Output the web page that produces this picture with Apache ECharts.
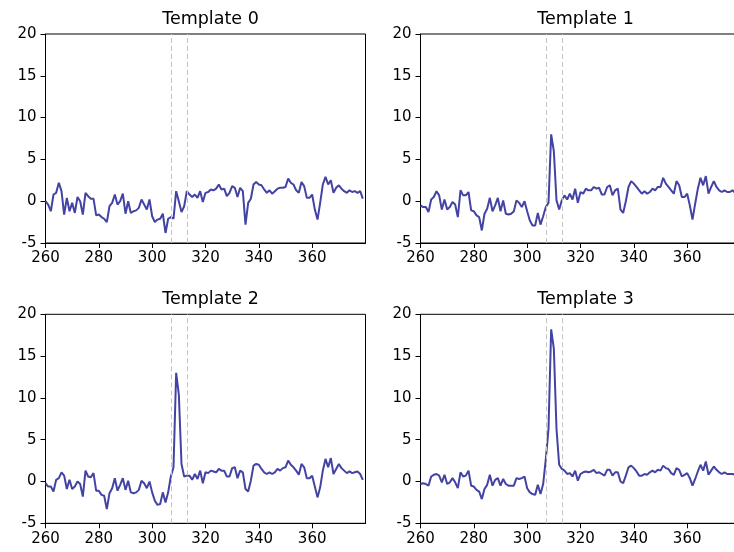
<!DOCTYPE html>
<html>
<head>
<meta charset="utf-8">
<script src="https://cdn.jsdelivr.net/npm/echarts@6/dist/echarts.min.js"></script>
<style>
html,body{margin:0;padding:0;background:#fff;overflow:hidden;width:734px;height:552px;}
#chart{width:760px;height:552px;}
</style>
</head>
<body>
<div id="chart"></div>
<script>
// sample positions
const xStart = 260;
const xTicks = [260, 280, 300, 320, 340, 360];
const yTicks = [-5, 0, 5, 10, 15, 20];
const windowLines = [307, 313];
const titles = ['Template 0', 'Template 1', 'Template 2', 'Template 3'];

const template0 = [
  0, -0.4, -1.2, 0.8, 1.0, 2.2, 1.2, -1.6, 0.4, -1.2,
  -0.2, -1.4, 0.5, 0, -1.6, 1.0, 0.6, 0.3, 0.3, -1.7,
  -1.6, -1.9, -2.1, -2.5, -0.6, -0.2, 0.8, -0.4, 0, 0.9,
  -1.5, 0, -1.4, -1.2, -1.1, -0.8, 0.2, -0.4, -1.0, 0.2,
  -1.8, -2.5, -2.2, -2.1, -1.5, -3.8, -2.1, -1.9, -2.1, 1.2,
  0, -1.3, -0.6, 1.2, 0.8, 0.5, 0.8, 0.4, 1.2, -0.1,
  1.0, 1.1, 1.4, 1.3, 1.5, 2.0, 1.4, 1.5, 0.6, 1.0,
  1.8, 1.6, 0.5, 1.6, 1.2, -2.8, -0.2, 0.3, 2.0, 2.3,
  2.0, 1.9, 1.4, 1.0, 1.3, 0.9, 1.2, 1.5, 1.6, 1.6,
  1.7, 2.7, 2.2, 2.0, 1.3, 1.0, 2.3, 1.8, 0.4, 0.4,
  0.8, -1.0, -2.2, -0.2, 2.0, 2.9, 2.0, 2.5, 1.0, 1.6,
  1.9, 1.5, 1.2, 1.0, 1.3, 1.1, 1.2, 1.0, 1.2, 0.3
];
const template1 = [
  -0.5, -0.7, -0.7, -1.3, 0.2, 0.5, 1.2, 0.7, -1.0, 0.2,
  -1.0, -0.7, -0.1, -0.4, -1.9, 1.3, 0.7, 0.7, 1.1, -1.1,
  -1.2, -1.7, -1.9, -3.5, -1.5, -0.9, 0.4, -1.2, -0.5, 0.4,
  -1.2, 0.1, -1.5, -1.6, -1.5, -1.2, 0.1, -0.2, -0.7, 0,
  -1.2, -2.3, -2.9, -2.9, -1.4, -2.8, -1.8, -0.7, -0.2, 8.0,
  6.0, 0.1, -1.0, 0.1, 0.7, 0.2, 0.9, 0.2, 1.5, -0.2,
  1.1, 0.9, 1.5, 1.3, 1.3, 1.7, 1.5, 1.6, 0.8, 0.8,
  1.7, 1.9, 0.7, 1.3, 1.5, -1.0, -1.4, 0, 1.7, 2.4,
  2.1, 1.7, 1.3, 0.9, 1.2, 0.9, 1.1, 1.5, 1.3, 1.7,
  1.7, 2.8, 2.1, 1.7, 1.3, 0.9, 2.4, 1.9, 0.5, 0.5,
  0.9, -0.5, -2.2, -0.3, 1.5, 2.8, 1.9, 3.0, 0.9, 1.7,
  2.4, 1.7, 1.3, 1.1, 1.3, 1.1, 1.1, 1.3, 1.0, 0.3
];
const template2 = [
  -0.2, -0.6, -0.6, -1.2, 0.2, 0.4, 1.1, 0.7, -0.9, 0.2,
  -0.9, -0.6, 0, -0.3, -1.8, 1.3, 0.6, 0.5, 1.0, -1.1,
  -1.1, -1.6, -1.7, -3.3, -1.4, -0.8, 0.4, -1.1, -0.4, 0.4,
  -1.0, 0.1, -1.3, -1.4, -1.3, -1.0, 0.1, -0.2, -0.8, 0,
  -1.3, -2.3, -2.8, -2.7, -1.3, -2.5, -1.3, 0.6, 1.7, 13.0,
  10.4, 2.1, 0.6, 0.7, 0.7, 0.2, 0.9, 0.3, 1.3, -0.2,
  1.1, 1.0, 1.3, 1.2, 1.1, 1.5, 1.3, 1.3, 0.6, 0.6,
  1.6, 1.7, 0.4, 1.3, 1.1, -0.9, -1.2, 0.1, 1.9, 2.1,
  2.0, 1.5, 1.1, 0.9, 1.1, 0.9, 1.1, 1.5, 1.3, 1.6,
  1.7, 2.5, 2.0, 1.7, 1.3, 0.8, 2.1, 1.7, 0.4, 0.4,
  0.7, -0.6, -1.9, -0.7, 1.3, 2.7, 1.7, 2.8, 0.9, 1.5,
  2.1, 1.6, 1.3, 1.0, 1.2, 1.0, 1.1, 1.2, 0.9, 0.2
];
const template3 = [
  -0.3, -0.2, -0.3, -0.5, 0.6, 0.8, 0.9, 0.7, -0.1, 0.8,
  -0.3, -0.1, 0.4, -0.1, -0.8, 1.1, 0.6, 0.7, 1.3, -0.5,
  -0.6, -1.0, -1.2, -2.1, -0.9, -0.4, 0.8, -0.5, 0.2, 0.4,
  -0.5, 0.3, -0.3, -0.5, -0.5, -0.5, 0.4, 0.3, 0.4, 0.6,
  -0.8, -1.3, -1.5, -1.6, -0.4, -1.5, -0.3, 2.7, 6.3, 18.2,
  15.9, 6.3, 2.0, 1.5, 1.3, 0.9, 1.0, 0.6, 1.3, 0.1,
  0.9, 1.1, 1.2, 1.1, 1.2, 1.4, 1.0, 1.1, 0.9, 0.7,
  1.4, 1.4, 0.7, 1.1, 1.1, 0, -0.2, 0.7, 1.7, 1.9,
  1.6, 1.2, 0.7, 0.7, 0.9, 0.8, 1.1, 1.3, 1.1, 1.4,
  1.3, 1.9, 1.6, 1.5, 1.0, 0.8, 1.6, 1.4, 0.6, 0.8,
  1.0, 0.4, -0.5, 0.3, 1.2, 2.0, 1.3, 2.4, 0.8, 1.3,
  1.8, 1.4, 1.1, 0.9, 1.1, 0.9, 0.9, 0.9, 0.8, 0.3
];
const allTemplates = [template0, template1, template2, template3];

const FONT = 'DejaVu Sans';
const LINE_COLOR = '#4343a3';
const grids = [
  {left: 45.5, top: 34, width: 320, height: 209},
  {left: 420.5, top: 34, width: 320, height: 209},
  {left: 45.5, top: 314.3, width: 320, height: 209},
  {left: 420.5, top: 314.3, width: 320, height: 209}
];

const option = {
  backgroundColor: '#fff',
  animation: false,
  title: grids.map((g, i) => ({
    text: titles[i],
    left: g.left + g.width / 2,
    top: g.top - 29,
    textAlign: 'center',
    textStyle: {fontFamily: FONT, fontSize: 17.5, fontWeight: 'normal', color: '#000'}
  })),
  grid: grids.map(g => Object.assign({show: true, borderColor: '#000', borderWidth: 1, backgroundColor: 'transparent'}, g)),
  xAxis: grids.map((g, i) => ({
    type: 'value', gridIndex: i, min: 260, max: 380, interval: 20,
    axisLine: {show: true, onZero: false, lineStyle: {color: '#000', width: 1}},
    axisTick: {show: true, length: 5, lineStyle: {color: '#000'}, customValues: xTicks},
    axisLabel: {color: '#000', fontFamily: FONT, fontSize: 15, margin: 8, customValues: xTicks},
    splitLine: {show: false}
  })),
  yAxis: grids.map((g, i) => ({
    type: 'value', gridIndex: i, min: -5, max: 20, interval: 5,
    axisLine: {show: true, onZero: false, lineStyle: {color: '#000', width: 1}},
    axisTick: {show: true, length: 5, lineStyle: {color: '#000'}},
    axisLabel: {color: '#000', fontFamily: FONT, fontSize: 15, margin: 9},
    splitLine: {show: false}
  })),
  series: allTemplates.map((vals, i) => ({
    type: 'line', xAxisIndex: i, yAxisIndex: i,
    data: vals.map((v, k) => [xStart + k, v]),
    showSymbol: false, symbol: 'none',
    lineStyle: {color: LINE_COLOR, width: 2},
    markLine: {
      silent: true, symbol: 'none', label: {show: false},
      lineStyle: {color: '#c4c4c4', type: [5, 3], width: 1},
      data: windowLines.map(x => ({xAxis: x}))
    }
  }))
};

const chart = echarts.init(document.getElementById('chart'), null, {renderer: 'canvas'});
chart.setOption(option);
</script>
</body>
</html>
